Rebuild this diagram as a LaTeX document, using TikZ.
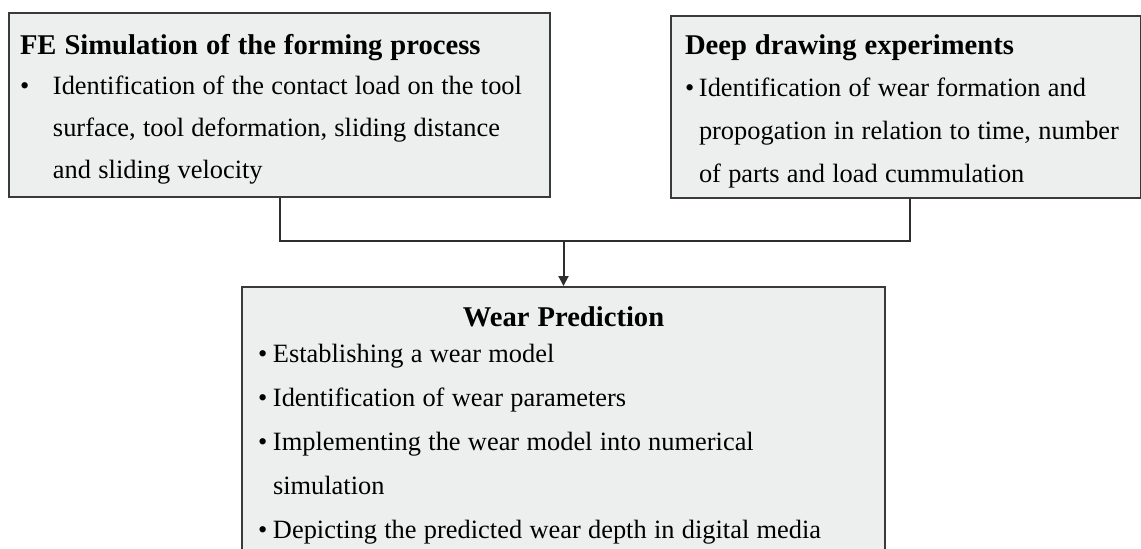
\documentclass[tikz,border=0pt]{standalone}
\usepackage{fontspec}
\setmainfont{Liberation Serif}
\usepackage{xcolor}
\usetikzlibrary{arrows.meta}
\definecolor{boxfill}{HTML}{EDEEEE}
\definecolor{boxline}{HTML}{3A3A3A}
\definecolor{wire}{HTML}{2E2E2E}
\newcommand{\wtight}{\spaceskip=3.65pt\relax}
\newcommand{\wbul}[1]{\makebox[#1][l]{\textbullet}}
\newcommand{\wind}[1]{\hspace*{#1}}
\newcommand{\wtitle}[2]{\rule{0pt}{#1}{\fontsize{14.3}{21}\selectfont\bfseries\spaceskip=4pt\relax #2}}
\newcommand{\wfoot}[1]{\rule[-#1]{0pt}{#1}}
\tikzset{
  stage/.style={draw=boxline, fill=boxfill, line width=1pt, align=left,
    inner ysep=0pt, font=\fontsize{13.2}{21}\selectfont},
  link/.style={draw=wire, line width=1pt},
  flow/.style={link, -{Triangle[length=5pt, width=5pt]}}
}

\begin{document}
\begin{tikzpicture}[x=0.5pt, y=-0.5pt]
  \useasboundingbox (0,0) rectangle (1141,548);
  \clip (0,0) rectangle (1141,548);

  \node[stage, anchor=north west, inner xsep=5.5pt, text width=259.5pt] (fesim) at (8,12)
    {\wtight\wtitle{20.75pt}{FE Simulation of the forming process}\\[-1pt]
     \wbul{16.5pt}Identification of the contact load on the tool\\
     \wind{16.5pt}surface, tool deformation, sliding distance\\
     \wind{16.5pt}and sliding velocity\wfoot{9.25pt}};
  \node[stage, anchor=north west, inner xsep=7pt, text width=221pt,
        font=\fontsize{13.2}{21.5}\selectfont] (ddexp) at (670,15)
    {\wtight\wtitle{19.25pt}{Deep drawing experiments}\\[-0.5pt]
     \wbul{7pt}Identification of wear formation and\\
     \wind{7pt}propogation in relation to time, number\\
     \wind{7pt}of parts and load cummulation\wfoot{7.75pt}};
  \node[stage, anchor=north, inner xsep=8pt, text width=305.5pt,
        font=\fontsize{13.2}{22}\selectfont] (wearpred) at (563.5,286)
    {\wtight\makebox[\linewidth]{\wtitle{19.75pt}{Wear Prediction}}\\[-4pt]
     \wbul{7.5pt}Establishing a wear model\\
     \wbul{7.5pt}Identification of wear parameters\\
     \wbul{7.5pt}Implementing the wear model into numerical\\
     \wind{7.5pt}simulation\\
     \wbul{7.5pt}Depicting the predicted wear depth in digital media\wfoot{12pt}};

  \coordinate (join) at (563.5,241);
  \coordinate (ddfoot) at ([xshift=2pt]ddexp.south);
  \draw[link] (fesim.south) |- (join) -| (ddfoot);
  \draw[flow] (join) -- (wearpred.north);
\end{tikzpicture}
\end{document}
